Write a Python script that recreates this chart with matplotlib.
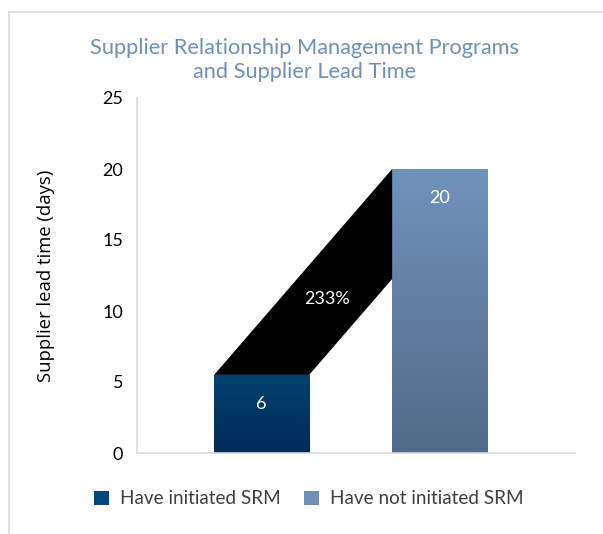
import numpy as np
import matplotlib
matplotlib.use('Agg')
import matplotlib.pyplot as plt
from matplotlib.colors import LinearSegmentedColormap
from matplotlib.patches import Patch, Polygon

categories = ['Have initiated SRM', 'Have not initiated SRM']
lead_time = [5.5, 20.0]
bar_labels = ['6', '20']
change_label = '233%'
yticks = [0, 5, 10, 15, 20, 25]

title = 'Supplier Relationship Management Programs\nand Supplier Lead Time'
ylabel = 'Supplier lead time (days)'

plt.rcParams['font.family'] = ['Lato', 'DejaVu Sans']

fig = plt.figure(figsize=(6.03, 5.34), dpi=100)
W, H = 603, 534

# outer frame (only top and left edges visible)
fig.add_artist(plt.Line2D([9 / W, 1], [1 - 12 / H, 1 - 12 / H], color='#d9d9d9', lw=1.2))
fig.add_artist(plt.Line2D([9 / W, 9 / W], [0, 1 - 12 / H], color='#d9d9d9', lw=1.2))

ax = fig.add_axes([137 / W, 1 - 453 / H, (575 - 137) / W, (453 - 98) / H])

grads = [('#00436f', '#002a5a'), ('#7093ba', '#526a89')]
legend_cols = ['#00467a', '#7090b6']

x = np.arange(len(categories))
bars = ax.bar(x, lead_time, width=0.534, color='none', edgecolor='none')
for b, (ctop, cbot) in zip(bars, grads):
    cmap = LinearSegmentedColormap.from_list('g', [cbot, ctop])
    grad = np.linspace(0, 1, 256).reshape(-1, 1)
    im = ax.imshow(grad, cmap=cmap, origin='lower', aspect='auto',
                   extent=[b.get_x(), b.get_x() + b.get_width(), 0, b.get_height()],
                   zorder=2)
    im.set_clip_path(b)

# connecting shape between the two bars
b1, b2 = bars[0], bars[1]
x1l, x1r = b1.get_x(), b1.get_x() + b1.get_width()
x2l = b2.get_x()
y1, y2 = b1.get_height(), b2.get_height()
ylow = y1 + (y2 - y1) * (x2l - x1r) / (x2l - x1l)
verts = [(x1l, y1), (x1r, y1), (x2l, ylow), (x2l, y2)]
ax.add_patch(Polygon(verts, closed=True, facecolor='black', edgecolor='none', zorder=2))
cx = np.mean([v[0] for v in verts])
cy = np.mean([v[1] for v in verts])
ax.text(cx, cy, change_label, color='white', fontsize=13, ha='center', va='center', zorder=3)

for b, lab in zip(bars, bar_labels):
    ax.annotate(lab, (b.get_x() + b.get_width() / 2, b.get_height()),
                xytext=(0, -21), textcoords='offset points',
                ha='center', va='center', color='white', fontsize=13, zorder=3)

ax.set_xlim(-0.70, 1.76)
ax.set_ylim(0, 25)
ax.set_yticks(yticks)
ax.set_xticks([])
ax.tick_params(axis='y', length=0, pad=10, labelsize=13, labelcolor='black')
for s in ['top', 'right']:
    ax.spines[s].set_visible(False)
for s in ['left', 'bottom']:
    ax.spines[s].set_color('#d9d9d9')
    ax.spines[s].set_linewidth(1.2)

ax.set_ylabel(ylabel, fontsize=13.3, family=['Open Sans', 'DejaVu Sans'], labelpad=34)

fig.text(305 / W, 1 - 60 / H, title, ha='center', va='center', fontsize=15.7,
         color='#6f90b7', linespacing=1.25)

handles = [Patch(facecolor=c, edgecolor='none') for c in legend_cols]
fig.legend(handles, categories, loc='center', bbox_to_anchor=(309 / W, 1 - 499 / H),
           ncol=2, frameon=False, fontsize=13.6, handlelength=0.8, handleheight=0.8,
           handletextpad=0.6, columnspacing=1.2, labelcolor='#404040')

fig.savefig('out.png', dpi=100)
